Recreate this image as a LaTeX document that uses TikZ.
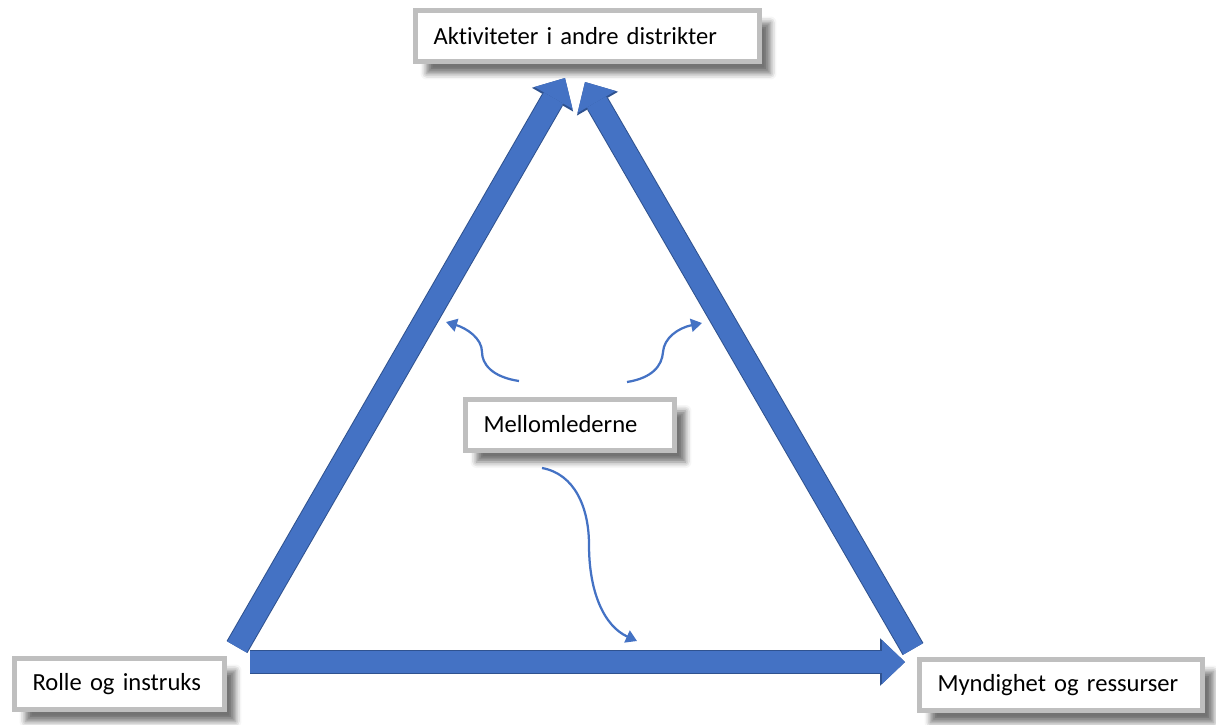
\documentclass[tikz,border=0pt]{standalone}
\usepackage{fontspec}
\setmainfont{Carlito}[Ligatures={NoCommon}]
\usetikzlibrary{arrows.meta,shadows.blur}
\definecolor{arrowblue}{RGB}{68,114,196}
\definecolor{arrowedge}{RGB}{47,82,143}
\definecolor{boxgray}{RGB}{191,191,191}

\begin{document}
\begin{tikzpicture}[x=0.02cm, y=-0.02cm,
    labelbox/.style={draw=boxgray, line width=0.1cm, fill=white, align=left,
        inner xsep=0.36cm, minimum height=1.02cm, font=\fontsize{14}{16}\selectfont,
        blur shadow={shadow xshift=0.22cm, shadow yshift=-0.24cm,
            shadow blur radius=0.12cm, shadow opacity=55}},
    bigarrow/.style={arrowblue, line width=0.44cm,
        -{Triangle[width=0.88cm, length=0.46cm, line width=0pt]},
        preaction={draw=arrowedge, line width=0.48cm,
            -{Triangle[width=0.95cm, length=0.5cm, line width=0pt]}}},
    smallarrow/.style={arrowblue, line width=0.045cm,
        -{Triangle[width=0.26cm, length=0.22cm]}}]

    \useasboundingbox (0,0) rectangle (1216,724);

    \node[labelbox, text width=6.16cm] (aktiv) at (587.5,36) {Aktiviteter i andre distrikter};
    \node[labelbox, text width=3.46cm] (mellom) at (570,424.5) {Mellomlederne};
    \node[labelbox, text width=3.48cm] (rolle) at (119.5,684) {Rolle og instruks};
    \node[labelbox, text width=4.94cm] (myndig) at (1061,685) {Myndighet og ressurser};

    \coordinate (lefttail) at (237,647);
    \coordinate (lefthead) at (565,78);
    \coordinate (righttail) at (913,649);
    \coordinate (righthead) at (585,82);
    \coordinate (bottail) at (250,662);
    \coordinate (bothead) at (905,662);

    \draw[bigarrow] (lefttail) -- (lefthead);
    \draw[bigarrow] (righttail) -- (righthead);
    \draw[bigarrow] (bottail) -- (bothead);

    \coordinate (ls) at (519,381);
    \coordinate (le) at (446,322);
    \coordinate (rs) at (627,382);
    \coordinate (re) at (702,323);
    \coordinate (ds) at (542,468);
    \coordinate (de) at (637,641);

    \draw[smallarrow] (ls) .. controls (492,377) and (482,364) .. (482,352)
        .. controls (482,338) and (466,328) .. (le);
    \draw[smallarrow] (rs) .. controls (652,378) and (662,366) .. (663,352)
        .. controls (664,338) and (678,328) .. (re);
    \draw[smallarrow] (ds) .. controls (575,474) and (589,508) .. (589,545)
        .. controls (589,592) and (604,626) .. (de);
\end{tikzpicture}
\end{document}
